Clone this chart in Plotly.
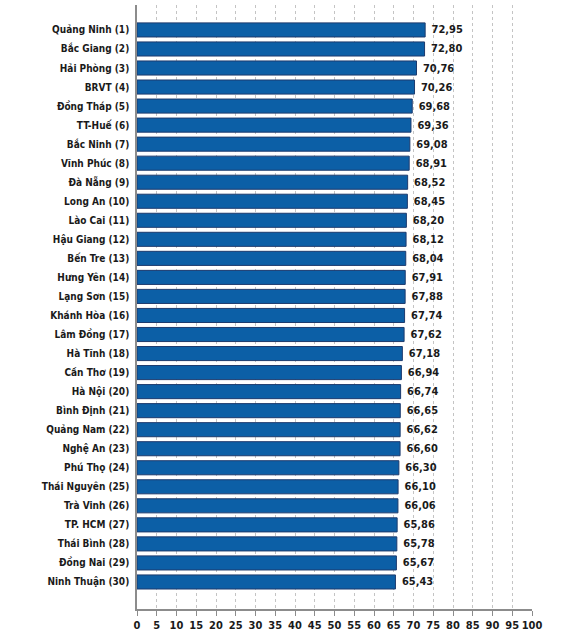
import plotly.graph_objects as go

provinces = [
    "Quảng Ninh (1)", "Bắc Giang (2)", "Hải Phòng (3)", "BRVT (4)", "Đồng Tháp (5)",
    "TT-Huế (6)", "Bắc Ninh (7)", "Vĩnh Phúc (8)", "Đà Nẵng (9)", "Long An (10)",
    "Lào Cai (11)", "Hậu Giang (12)", "Bến Tre (13)", "Hưng Yên (14)", "Lạng Sơn (15)",
    "Khánh Hòa (16)", "Lâm Đồng (17)", "Hà Tĩnh (18)", "Cần Thơ (19)", "Hà Nội (20)",
    "Bình Định (21)", "Quảng Nam (22)", "Nghệ An (23)", "Phú Thọ (24)", "Thái Nguyên (25)",
    "Trà Vinh (26)", "TP. HCM (27)", "Thái Bình (28)", "Đồng Nai (29)", "Ninh Thuận (30)",
]
scores = [
    72.95, 72.80, 70.76, 70.26, 69.68,
    69.36, 69.08, 68.91, 68.52, 68.45,
    68.20, 68.12, 68.04, 67.91, 67.88,
    67.74, 67.62, 67.18, 66.94, 66.74,
    66.65, 66.62, 66.60, 66.30, 66.10,
    66.06, 65.86, 65.78, 65.67, 65.43,
]
x_ticks = list(range(0, 101, 5))

font_family = "DejaVu Sans Condensed"
label_font = dict(family=font_family, size=10, color="#1a1a1a", weight="bold")
value_font = dict(family=font_family, size=11, color="#1a1a1a", weight="bold")

fig = go.Figure(go.Bar(
    x=scores,
    y=provinces,
    orientation="h",
    width=0.74,
    marker=dict(color="#0c5fa6", line=dict(color="#1d3b6e", width=1)),
    texttemplate=" %{x:.2f}",
    textposition="outside",
    cliponaxis=False,
    textfont=value_font,
    hoverinfo="skip",
))

fig.update_layout(
    width=571,
    height=637,
    margin=dict(l=137, r=39, t=5, b=28, autoexpand=False),
    paper_bgcolor="white",
    plot_bgcolor="white",
    separators=",.",
    showlegend=False,
    font=dict(family=font_family, size=11, color="#1a1a1a"),
    uniformtext=dict(minsize=8, mode="show"),
    xaxis=dict(
        range=[0, 100],
        tickvals=x_ticks,
        tickangle=0,
        automargin=False,
        showgrid=True,
        gridcolor="#c4c4c4",
        griddash="dot",
        gridwidth=1,
        zeroline=False,
        showline=True,
        linecolor="#8c8c8c",
        linewidth=1.5,
        ticks="outside",
        ticklen=5,
        tickcolor="#8c8c8c",
        tickfont=value_font,
        fixedrange=True,
    ),
    yaxis=dict(
        categoryorder="array",
        categoryarray=provinces,
        range=[30.42, -1.31],
        automargin=False,
        showgrid=False,
        zeroline=False,
        showline=True,
        linecolor="#8c8c8c",
        linewidth=1.5,
        ticks="",
        ticklabelstandoff=4,
        tickfont=label_font,
        fixedrange=True,
    ),
    bargap=0.26,
)

# page has a default 8px body margin; drop it so the chart sits at the corner
fig.write_html(
    "out.html",
    config={"displayModeBar": False},
    post_script="document.body.style.margin='0';",
)
